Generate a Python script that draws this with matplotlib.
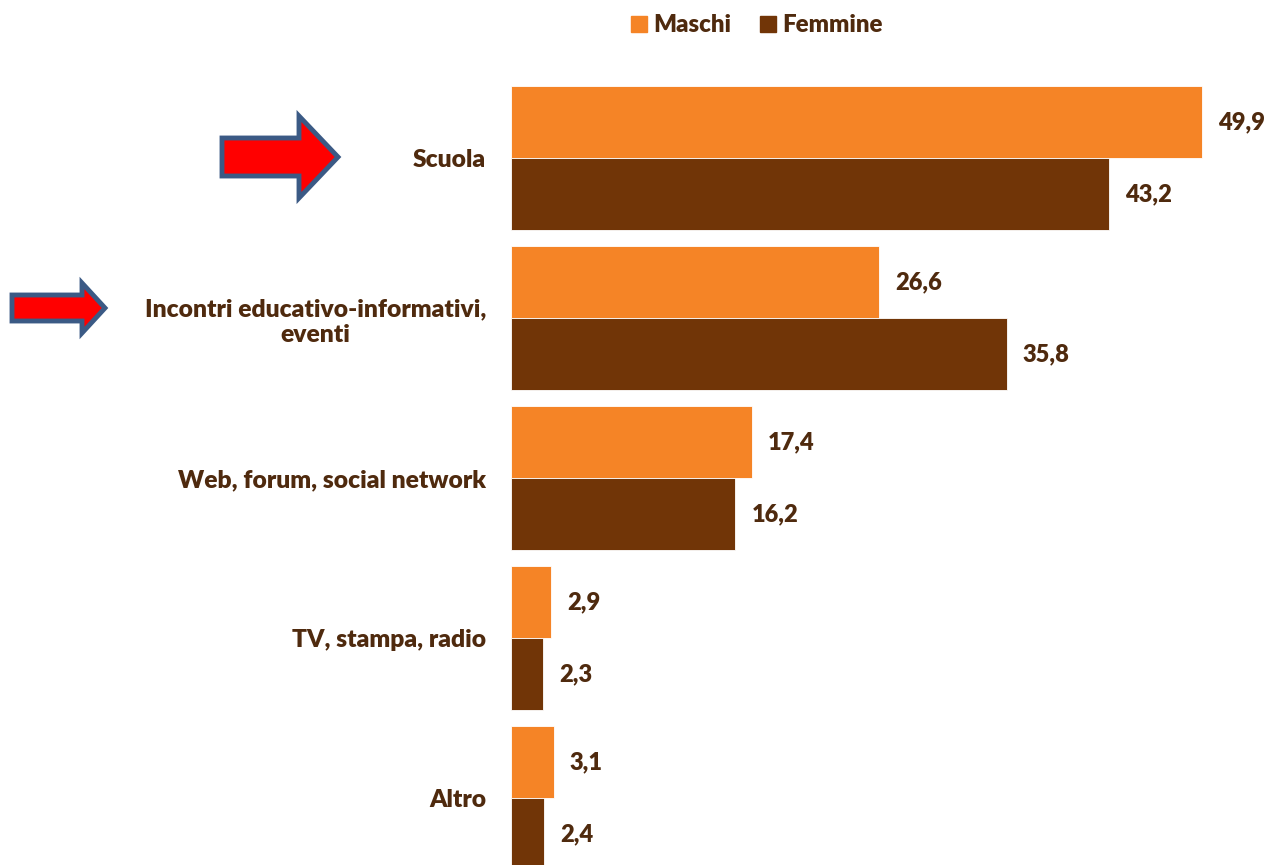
import matplotlib
matplotlib.use("Agg")
import matplotlib.pyplot as plt
import numpy as np
from matplotlib.patches import Polygon
from matplotlib.lines import Line2D

categories = ["Scuola", "Incontri educativo-informativi,\neventi", "Web, forum, social network",
              "TV, stampa, radio", "Altro"]
maschi = [49.9, 26.6, 17.4, 2.9, 3.1]
femmine = [43.2, 35.8, 16.2, 2.3, 2.4]
series_names = ["Maschi", "Femmine"]

ORANGE = "#F58426"
BROWN = "#713507"
TEXT = "#4f2a0e"
FONT = "Lato"
WEIGHT = "heavy"

W, H = 1270, 865
fig = plt.figure(figsize=(W / 100, H / 100), dpi=100)

# main axes placed in pixel terms: left edge of bars at x=511, top of first bar at y=86
ax = fig.add_axes([511 / W, 0, 748 / W, 1 - 78 / H])
y = np.arange(len(categories))
h = 0.45
ax.barh(y - h / 2, maschi, height=h, color=ORANGE, edgecolor="white", linewidth=0.6)
ax.barh(y + h / 2, femmine, height=h, color=BROWN, edgecolor="white", linewidth=0.6)
ax.set_xlim(0, 54)
ax.set_ylim(-0.5 + (865 - 78) / 160, -0.5)

for yi, v in zip(y - h / 2, maschi):
    ax.annotate(f"{v:.1f}".replace(".", ","), (v, yi), xytext=(11.5, 0), textcoords="offset points",
                va="center", ha="left", fontsize=17, fontweight=WEIGHT, color=TEXT, family=FONT)
for yi, v in zip(y + h / 2, femmine):
    ax.annotate(f"{v:.1f}".replace(".", ","), (v, yi), xytext=(11.5, 0), textcoords="offset points",
                va="center", ha="left", fontsize=17, fontweight=WEIGHT, color=TEXT, family=FONT)

ax.set_yticks(y)
ax.set_yticklabels(categories, fontsize=17.7, fontweight=WEIGHT, color=TEXT, family=FONT,
                   multialignment="center")
ax.tick_params(axis="y", length=0, pad=18)
ax.set_xticks([])
for s in ax.spines.values():
    s.set_visible(False)

# legend at top
handles = [Line2D([], [], marker="s", linestyle="", markersize=11, color=ORANGE),
           Line2D([], [], marker="s", linestyle="", markersize=11, color=BROWN)]
fig.legend(handles, series_names, loc="center", bbox_to_anchor=(755 / W, 1 - 25 / H), ncol=2,
           frameon=False, handletextpad=0.1, columnspacing=1.0, handlelength=1.0,
           prop={"family": FONT, "weight": WEIGHT, "size": 17.3}, labelcolor=TEXT)

# overlay for the red arrows (pixel coordinates)
ov = fig.add_axes([0, 0, 1, 1], zorder=5)
ov.set_xlim(0, W)
ov.set_ylim(H, 0)
ov.axis("off")


def block_arrow(x0, xh, xt, yc, shaft, head):
    pts = [(x0, yc - shaft / 2), (xh, yc - shaft / 2), (xh, yc - head / 2), (xt, yc),
           (xh, yc + head / 2), (xh, yc + shaft / 2), (x0, yc + shaft / 2)]
    ov.add_patch(Polygon(pts, closed=True, facecolor="#FF0000", edgecolor="#3B5A85",
                         linewidth=3.5, joinstyle="miter"))


block_arrow(222, 299, 338, 157, 38, 82)
block_arrow(12, 82, 105, 308, 26, 50)

fig.savefig("out.png", dpi=100)
